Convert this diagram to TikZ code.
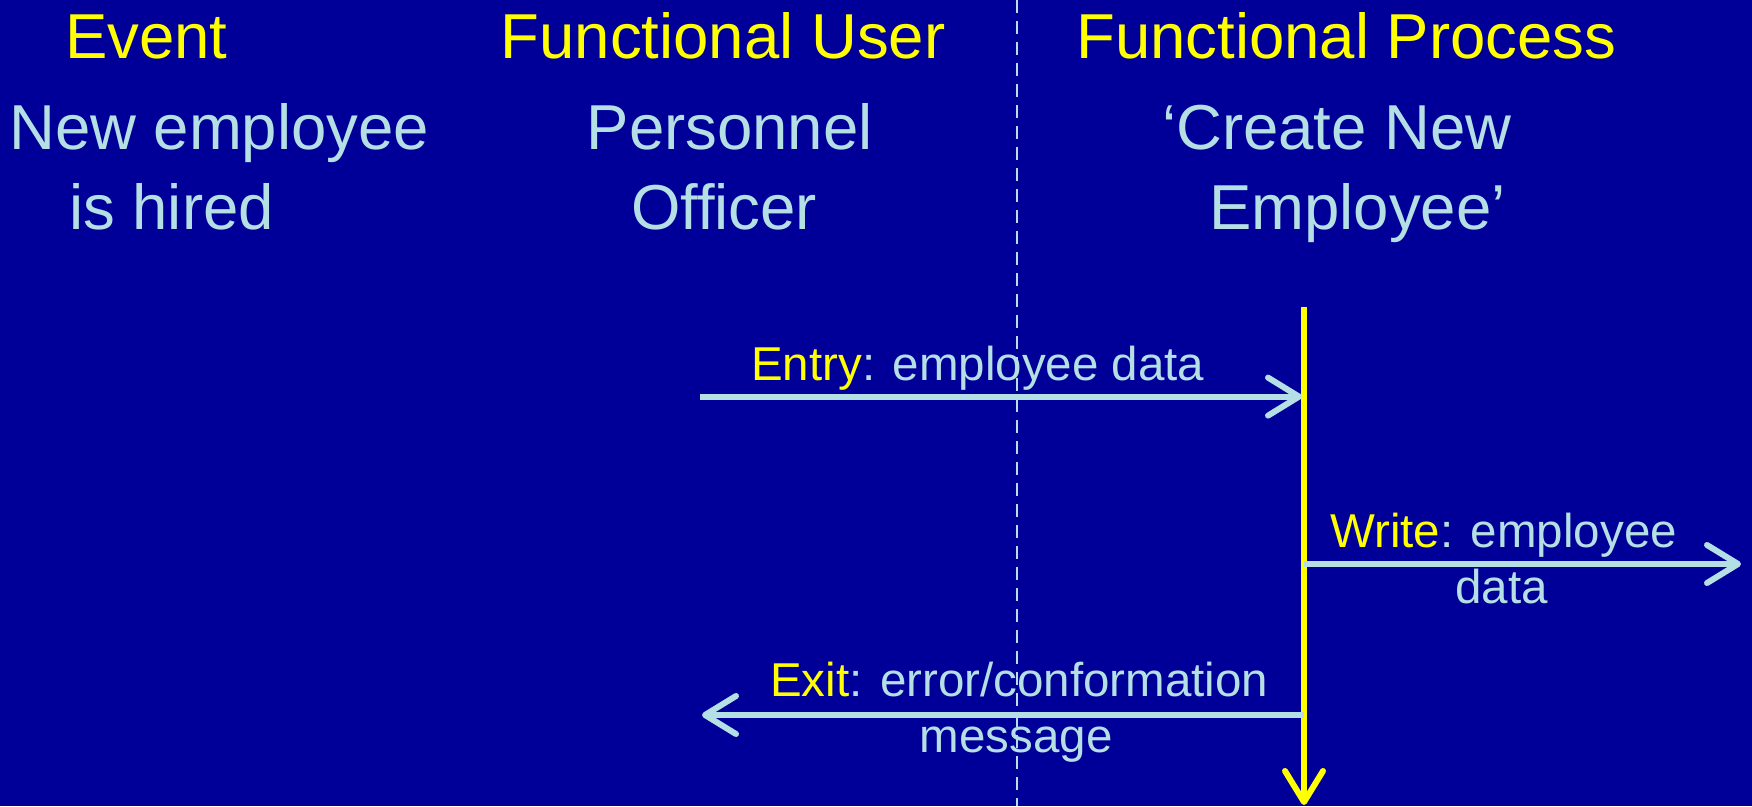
\documentclass[tikz,border=0pt]{standalone}
\usepackage{fontspec}
\setmainfont{Liberation Sans}
\usetikzlibrary{arrows.meta}
\definecolor{bgblue}{HTML}{000099}
\definecolor{hiyel}{HTML}{FFFF00}
\definecolor{paleblue}{HTML}{B4DFE4}
\tikzset{
  heading/.style={anchor=base west, inner sep=0pt, text=hiyel, font=\fontsize{63.5}{76}\selectfont},
  actor/.style={anchor=base west, inner sep=0pt, text=paleblue, font=\fontsize{63.5}{76}\selectfont},
  msglabel/.style={anchor=base west, inner sep=0pt, text=paleblue, font=\fontsize{47.5}{56}\selectfont},
  barb/.tip={Straight Barb[length=31pt,width=38pt,line cap=round,line join=round]},
  movement/.style={draw=paleblue, line width=6pt, -barb},
  lifeline/.style={draw=hiyel, line width=6pt, -barb},
  boundary/.style={draw=paleblue, line width=1.8pt, dash pattern=on 13pt off 8pt}
}
\begin{document}
\begin{tikzpicture}[x=1pt,y=-1pt]
  \fill[bgblue] (0,0) rectangle (1752,806);
  \useasboundingbox (0,0) rectangle (1752,806);

  % column headings
  \node[heading] (hEvent) at (65,58) {Event};
  \node[heading] (hUser) at (500.5,58) {Functional User};
  \node[heading] (hProc) at (1076,58) {Functional Process};

  % instances
  \node[actor] (ev1) at (9,149) {New employee};
  \node[actor] (ev2) at (69,229) {is hired};
  \node[actor] (us1) at (586.6,149) {Personnel};
  \node[actor] (us2) at (631,229) {Officer};
  \node[actor] (pr1) at (1162,149) {‘Create New};
  \node[actor] (pr2) at (1209,229) {Employee’};

  % boundary between user and software
  \coordinate (bTop) at (1017,0);
  \coordinate (bBot) at (1017,806);
  \draw[boundary] (bTop) -- (bBot);

  % process lifeline
  \coordinate (pTop) at (1304,307);
  \coordinate (pBot) at (1304,805);
  \draw[lifeline] (pTop) -- (pBot);

  % data movements
  \coordinate (entryFrom) at (699.5,396.6);
  \coordinate (entryTo) at (1302,396.6);
  \draw[movement] (entryFrom) -- (entryTo);
  \node[msglabel] (entryLbl) at (751,380) {\textcolor{hiyel}{Entry}: employee data};

  \coordinate (writeFrom) at (1304,564);
  \coordinate (writeTo) at (1741,564);
  \draw[movement] (writeFrom) -- (writeTo);
  \node[msglabel] (writeLbl1) at (1330,547.5) {\textcolor{hiyel}{Write}: employee};
  \node[msglabel] (writeLbl2) at (1455,603) {data};

  \coordinate (exitFrom) at (1304,715);
  \coordinate (exitTo) at (702,715);
  \draw[movement] (exitFrom) -- (exitTo);
  \node[msglabel] (exitLbl1) at (770,696) {\textcolor{hiyel}{Exit}: error/conformation};
  \node[msglabel] (exitLbl2) at (919.6,752) {message};
\end{tikzpicture}
\end{document}
